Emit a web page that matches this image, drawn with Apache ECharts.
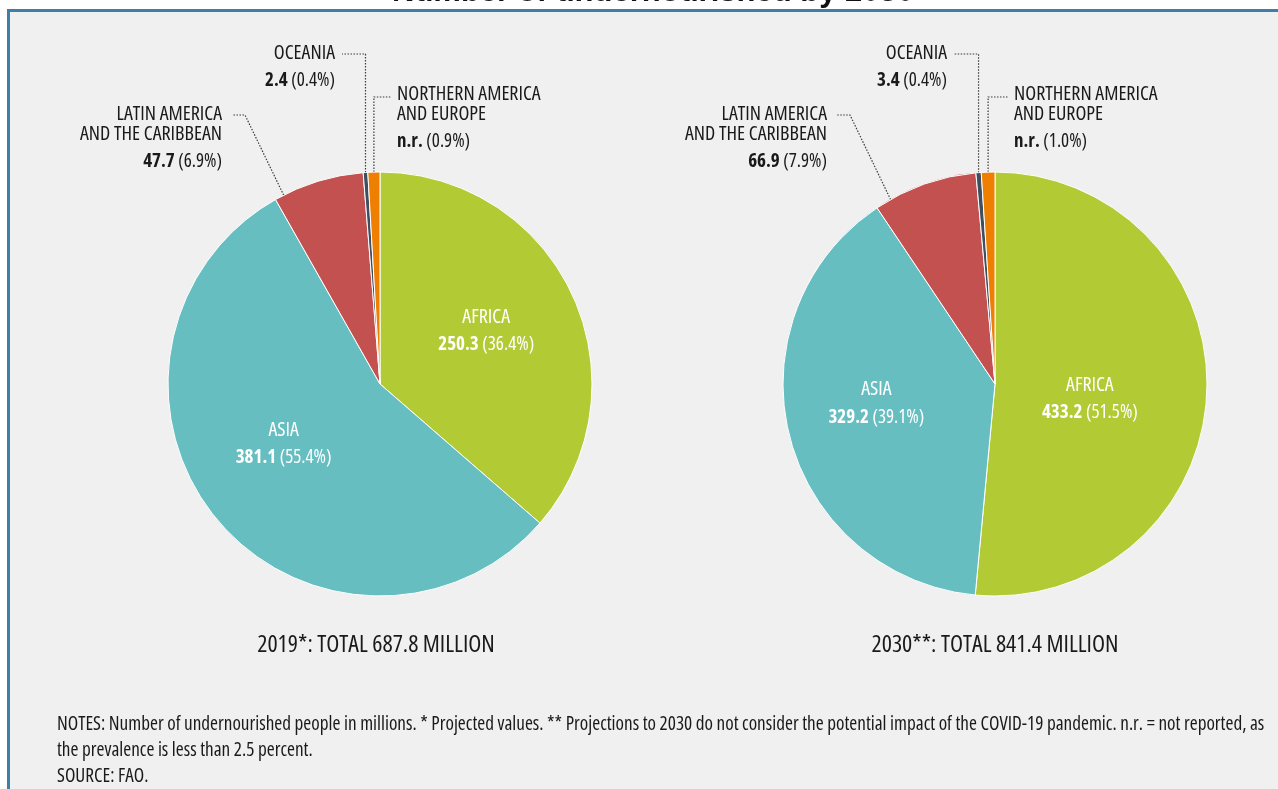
<!DOCTYPE html>
<html><head><meta charset="utf-8">
<script src="https://cdn.jsdelivr.net/npm/echarts@6/dist/echarts.min.js"></script>
<style>html,body{margin:0;padding:0;background:#fff;} #c{width:1278px;height:789px;}</style>
</head><body><div id="c"></div>
<script>
// ---- data ----
const regions = ['AFRICA', 'ASIA', 'LATIN AMERICA\nAND THE CARIBBEAN', 'OCEANIA', 'NORTHERN AMERICA\nAND EUROPE'];
const values2019 = [250.3, 381.1, 47.7, 2.4, 6.3];
const values2030 = [433.2, 329.2, 66.9, 3.4, 8.7];
const valueText2019 = ['250.3', '381.1', '47.7', '2.4', 'n.r.'];
const valueText2030 = ['433.2', '329.2', '66.9', '3.4', 'n.r.'];
const shares2019 = ['36.4%', '55.4%', '6.9%', '0.4%', '0.9%'];
const shares2030 = ['51.5%', '39.1%', '7.9%', '0.4%', '1.0%'];
const totals = ['2019*: TOTAL 687.8 MILLION', '2030**: TOTAL 841.4 MILLION'];
const chartTitle = 'Number of undernourished by 2030';
const notes = 'NOTES: Number of undernourished people in millions. * Projected values. ** Projections to 2030 do not consider the potential impact of the COVID-19 pandemic. n.r. = not reported, as\nthe prevalence is less than 2.5 percent.\nSOURCE: FAO.';
const colors = ['#b2cb35', '#66bec1', '#c35150', '#3e4f62', '#ef7f00'];

// ---- layout ----
const FONT = "'Open Sans', 'Roboto', sans-serif";
const STRETCH = 'condensed';
const CENTERS = [380, 995];
const CY = 384;
const R = 212;
const LAB = {
  lat: { dx: [-158, -168], top: 104, frac: [0.1, 0.15] },
  oce: { dx: [-45, -48], top: 43 },
  nam: { dx: [17, 19], top: 84 }
};
const INSIDE_SHIFT = [[[7, -4], [-12, -5]], [[-14, 14], [-13, -3]]];

const rich = {
  n: { fontFamily: FONT, fontStyle: STRETCH, fontSize: 20, fontWeight: 500, lineHeight: 20 },
  b: { fontFamily: FONT, fontStyle: STRETCH, fontSize: 19, fontWeight: 'bold', lineHeight: 36 },
  p: { fontFamily: FONT, fontStyle: STRETCH, fontSize: 19, fontWeight: 500, lineHeight: 36 }
};

// point on the pie rim at a given fraction through a slice, from the data values
function rimPoint(si, values, idx, frac) {
  const total = values.reduce((s, v) => s + v, 0);
  let start = 0;
  for (let k = 0; k < idx; k++) start += values[k];
  const f = (start + values[idx] * frac) / total;
  const ang = f * 2 * Math.PI;
  return [CENTERS[si] + R * Math.sin(ang), CY - R * Math.cos(ang)];
}

function makeSeries(si, values, vt, sh) {
  return {
    type: 'pie',
    center: [CENTERS[si], CY],
    radius: [0, R],
    startAngle: 90,
    clockwise: true,
    avoidLabelOverlap: false,
    animation: false,
    itemStyle: { borderColor: '#ffffff', borderWidth: 1 },
    label: {
      show: true,
      position: 'inside',
      color: '#ffffff',
      fontFamily: FONT,
      fontStyle: STRETCH,
      formatter: p => `{n|${regions[p.dataIndex]}}\n{b|${vt[p.dataIndex]}}{p| (${sh[p.dataIndex]})}`,
      rich: rich
    },
    labelLine: { show: true, length: 10, length2: 10, lineStyle: { color: '#3a3a3a', width: 1.2, type: [1.5, 1.5] } },
    emphasis: { disabled: true },
    data: values.map((v, i) => {
      const d = { value: v, name: regions[i], itemStyle: { color: colors[i] } };
      if (i >= 2) d.label = { position: 'outside', color: '#1a1a1a' };
      return d;
    }),
    labelLayout: function (p) {
      const i = p.dataIndex;
      const cx = CENTERS[si];
      if (i < 2) {
        const s = INSIDE_SHIFT[si][i];
        return { dx: s[0], dy: s[1] };
      }
      const a = p.labelLinePoints ? p.labelLinePoints[0] : [cx, CY - R];
      let x, y, align, pts;
      if (i === 2) {
        x = cx + LAB.lat.dx[si]; y = LAB.lat.top; align = 'right';
        const ly = y + 11;
        pts = [rimPoint(si, values, 2, LAB.lat.frac[si]), [x + 23, ly], [x + 10, ly]];
      } else if (i === 3) {
        x = cx + LAB.oce.dx[si]; y = LAB.oce.top; align = 'right';
        const ly = y + 11;
        pts = [a, [a[0], ly], [x + 7, ly]];
      } else {
        x = cx + LAB.nam.dx[si]; y = LAB.nam.top; align = 'left';
        const ly = y + 13;
        pts = [a, [a[0], ly], [x - 6, ly]];
      }
      return { x: x, y: y, align: align, verticalAlign: 'top', labelLinePoints: pts };
    }
  };
}

const chart = echarts.init(document.getElementById('c'), null, { renderer: 'canvas' });
const subStyle = { fontFamily: FONT, fontStyle: STRETCH, fontSize: 24, fontWeight: 500, color: '#1a1a1a' };
chart.setOption({
  backgroundColor: '#ffffff',
  animation: false,
  graphic: [
    { type: 'rect', z: -10, shape: { x: 8.5, y: 10.5, width: 1400, height: 900 }, style: { fill: '#f0f0f0', stroke: '#3e7fa8', lineWidth: 3 } }
  ],
  title: [
    { text: chartTitle, left: 648, top: -28, textAlign: 'center', textStyle: { fontFamily: "'Liberation Sans', Arial, sans-serif", fontSize: 31, fontWeight: 'bold', color: '#111' } },
    { text: totals[0], left: CENTERS[0] - 4, top: 633, padding: 0, textAlign: 'center', textStyle: subStyle },
    { text: totals[1], left: CENTERS[1], top: 633, padding: 0, textAlign: 'center', textStyle: subStyle },
    { text: notes, left: 57, top: 712, padding: 0, textStyle: { fontFamily: FONT, fontStyle: STRETCH, fontSize: 19.2, fontWeight: 500, color: '#1a1a1a', lineHeight: 26 } }
  ],
  series: [
    makeSeries(0, values2019, valueText2019, shares2019),
    makeSeries(1, values2030, valueText2030, shares2030)
  ]
});
</script>
</body></html>
